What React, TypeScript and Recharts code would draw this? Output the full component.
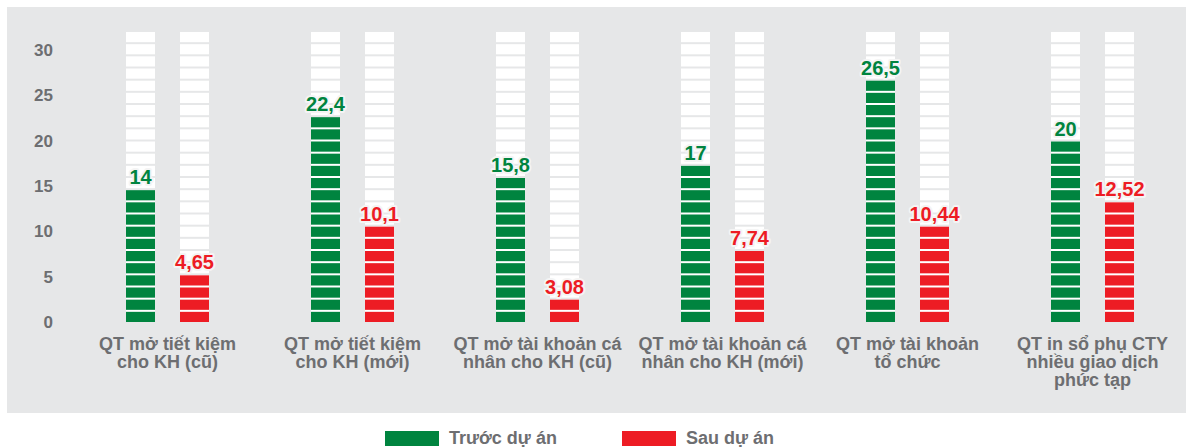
import React from "react";
import { BarChart, Bar, XAxis, YAxis, Legend } from "recharts";

const categories = [
  "QT mở tiết kiệm\ncho KH (cũ)",
  "QT mở tiết kiệm\ncho KH (mới)",
  "QT mở tài khoản cá\nnhân cho KH (cũ)",
  "QT mở tài khoản cá\nnhân cho KH (mới)",
  "QT mở tài khoản\ntổ chức",
  "QT in sổ phụ CTY\nnhiều giao dịch\nphức tạp",
];
const beforeValues = [14, 22.4, 15.8, 17, 26.5, 20];
const afterValues = [4.65, 10.1, 3.08, 7.74, 10.44, 12.52];
const yTicks = [0, 5, 10, 15, 20, 25, 30];
const seriesNames = ["Trước dự án", "Sau dự án"];

const data = categories.map((name, i) => ({
  name,
  before: beforeValues[i],
  after: afterValues[i],
}));

const FONT = "'Liberation Sans', Arial, Helvetica, sans-serif";
const GREEN = "#00843f";
const RED = "#ed1c24";
const GREY_TEXT = "#6d6e71";
const PANEL = "#e6e7e8";

const PLOT_TOP = 32;
const PLOT_HEIGHT = 290;
const SEGMENTS = 24;
const GAP = 2;
const PITCH = (PLOT_HEIGHT + GAP) / SEGMENTS;

const formatValue = (v: number) => String(v).replace(".", ",");

// white "empty" stripes behind each bar
function WhiteStripes(props: any) {
  const { x, y, width, height } = props;
  const bottom = y + height;
  const pitch = (height + GAP) / SEGMENTS;
  return (
    <g>
      {Array.from({ length: SEGMENTS }, (_, k) => (
        <rect
          key={k}
          x={x}
          y={bottom - k * pitch - (pitch - GAP)}
          width={width}
          height={pitch - GAP}
          fill="#ffffff"
        />
      ))}
    </g>
  );
}

// filled stripes, snapped to whole segments, with the value on top
function makeSegmentedBar(color: string, key: "before" | "after") {
  return (props: any) => {
    const { x, y, width, height, payload } = props;
    const bottom = y + height;
    const n = Math.min(SEGMENTS, Math.round(height / PITCH + 0.2));
    const top = bottom - n * PITCH + GAP;
    return (
      <g>
        <rect x={x} y={top} width={width} height={bottom - top} fill="#ffffff" />
        {Array.from({ length: n }, (_, k) => (
          <rect
            key={k}
            x={x}
            y={bottom - k * PITCH - (PITCH - GAP)}
            width={width}
            height={PITCH - GAP}
            fill={color}
          />
        ))}
        <text
          x={x + width / 2}
          y={top - 6}
          textAnchor="middle"
          fill={color}
          stroke="#f4f4f4"
          strokeWidth={4}
          strokeLinejoin="round"
          paintOrder="stroke"
          fontSize={20}
          fontWeight={700}
          fontFamily={FONT}
        >
          {formatValue(payload[key])}
        </text>
      </g>
    );
  };
}

function CategoryTick({ x, y, payload }: any) {
  const lines = String(payload.value).split("\n");
  return (
    <text
      x={x}
      y={y}
      textAnchor="middle"
      fill={GREY_TEXT}
      fontSize={18}
      fontWeight={700}
      fontFamily={FONT}
    >
      {lines.map((line, i) => (
        <tspan key={i} x={x} dy={i === 0 ? 28 : 18}>
          {line}
        </tspan>
      ))}
    </text>
  );
}

function LegendContent({ payload }: any) {
  const items = [...(payload || [])].sort(
    (a: any, b: any) => seriesNames.indexOf(a.value) - seriesNames.indexOf(b.value)
  );
  return (
    <div style={{ display: "flex" }}>
      {items.map((item: any, i: number) => (
        <div
          key={i}
          style={{ display: "flex", alignItems: "center", width: 237, height: 20 }}
        >
          <span
            style={{
              display: "inline-block",
              width: 54,
              height: 15,
              background: item.color,
              marginRight: 10,
            }}
          />
          <span
            style={{
              color: GREY_TEXT,
              fontSize: 18,
              fontWeight: 700,
              fontFamily: FONT,
            }}
          >
            {item.value}
          </span>
        </div>
      ))}
    </div>
  );
}

export default function App() {
  return (
    <div
      style={{
        position: "absolute",
        left: 0,
        top: 0,
        width: 1186,
        height: 448,
        fontFamily: FONT,
        background: "#ffffff",
      }}
    >
      <div
        style={{
          position: "absolute",
          left: 7,
          top: 7,
          width: 1179,
          height: 406,
          background: PANEL,
        }}
      />
      <div style={{ position: "absolute", left: 0, top: 0 }}>
        <BarChart
          width={1186}
          height={448}
          data={data}
          margin={{ top: PLOT_TOP, right: 1, bottom: 448 - PLOT_TOP - PLOT_HEIGHT - 60, left: 0 }}
          barSize={29}
          barGap={25}
        >
          <XAxis
            dataKey="name"
            height={60}
            tickLine={false}
            axisLine={false}
            tickSize={0}
            tickMargin={0}
            interval={0}
            tick={<CategoryTick />}
          />
          <YAxis
            width={75}
            domain={[0, 32]}
            ticks={yTicks}
            tickLine={false}
            axisLine={false}
            tickSize={0}
            tickMargin={22}
            tick={{ fill: GREY_TEXT, fontSize: 17, fontWeight: 700, fontFamily: FONT }}
          />
          <Legend
            layout="horizontal"
            verticalAlign="middle"
            align="center"
            wrapperStyle={{ top: 428, left: 385, width: "auto" }}
            content={<LegendContent />}
          />
          <Bar
            dataKey="before"
            name={seriesNames[0]}
            fill={GREEN}
            background={<WhiteStripes />}
            shape={makeSegmentedBar(GREEN, "before")}
            isAnimationActive={false}
          />
          <Bar
            dataKey="after"
            name={seriesNames[1]}
            fill={RED}
            background={<WhiteStripes />}
            shape={makeSegmentedBar(RED, "after")}
            isAnimationActive={false}
          />
        </BarChart>
      </div>
    </div>
  );
}
